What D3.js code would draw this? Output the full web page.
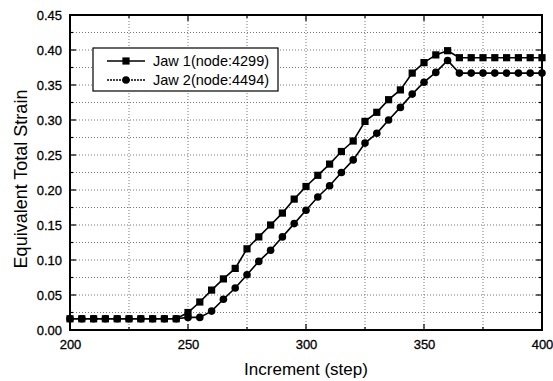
<!DOCTYPE html>
<html>
<head>
<meta charset="utf-8">
<script src="https://cdn.jsdelivr.net/npm/d3@7"></script>
<style>
  body { margin: 0; background: #fff; }
  svg { display: block; font-family: Arial, "Liberation Sans", sans-serif; }
</style>
</head>
<body>
<svg id="chart" width="553" height="381"></svg>
<script>
// increments (x) shared by both series
var steps = [200, 205, 210, 215, 220, 225, 230, 235, 240, 245, 250, 255, 260, 265, 270, 275, 280, 285, 290, 295,
  300, 305, 310, 315, 320, 325, 330, 335, 340, 345, 350, 355, 360, 365, 370, 375, 380, 385, 390, 395, 400];

var jaw1 = [0.016, 0.016, 0.016, 0.016, 0.016, 0.016, 0.016, 0.016, 0.016, 0.016, 0.025, 0.040, 0.057, 0.073, 0.088,
  0.116, 0.133, 0.150, 0.167, 0.187, 0.205, 0.221, 0.237, 0.255, 0.270, 0.298, 0.311, 0.329, 0.343, 0.367, 0.382,
  0.393, 0.399, 0.389, 0.389, 0.389, 0.389, 0.389, 0.389, 0.389, 0.389];

var jaw2 = [0.016, 0.016, 0.016, 0.016, 0.016, 0.016, 0.016, 0.016, 0.016, 0.016, 0.018, 0.018, 0.027, 0.044, 0.060,
  0.079, 0.098, 0.114, 0.133, 0.152, 0.171, 0.190, 0.206, 0.225, 0.243, 0.267, 0.281, 0.300, 0.318, 0.337, 0.354,
  0.368, 0.385, 0.367, 0.367, 0.367, 0.367, 0.367, 0.367, 0.367, 0.367];

var seriesNames = ["Jaw 1(node:4299)", "Jaw 2(node:4494)"];
var xTicks = [200, 250, 300, 350, 400];
var yTicks = [0, 0.05, 0.10, 0.15, 0.20, 0.25, 0.30, 0.35, 0.40, 0.45];

var svg = d3.select("#chart"),
  margin = {top: 15, right: 11, bottom: 51, left: 70},
  width = 553 - margin.left - margin.right,
  height = 381 - margin.top - margin.bottom;

var x = d3.scaleLinear().domain([200, 400]).range([0, width]);
var y = d3.scaleLinear().domain([0, 0.45]).range([height, 0]);

var g = svg.append("g").attr("transform", "translate(" + margin.left + "," + margin.top + ")");

// dotted grid, every minor tick
g.append("g").selectAll("line")
  .data(d3.range(225, 400, 25))
  .enter().append("line")
  .attr("x1", function(d) { return x(d); })
  .attr("x2", function(d) { return x(d); })
  .attr("y1", 0).attr("y2", height)
  .attr("stroke", "#555").attr("stroke-width", 0.8)
  .attr("stroke-dasharray", "1,2");

g.append("g").selectAll("line")
  .data(d3.range(1, 18).map(function(i) { return i * 0.025; }))
  .enter().append("line")
  .attr("y1", function(d) { return y(d); })
  .attr("y2", function(d) { return y(d); })
  .attr("x1", 0).attr("x2", width)
  .attr("stroke", "#555").attr("stroke-width", 0.8)
  .attr("stroke-dasharray", "1,2");

// axes with inward ticks
var xMinor = d3.range(200, 401, 25);
var yMinor = d3.range(0, 19).map(function(i) { return i * 0.025; });

function tickLen(isMajor) { return isMajor ? 6 : 3; }

var xAxis = g.append("g").attr("transform", "translate(0," + height + ")")
  .call(d3.axisBottom(x).tickValues(xTicks).tickSize(0).tickPadding(10).tickFormat(d3.format("d")));
var yAxis = g.append("g")
  .call(d3.axisLeft(y).tickValues(yTicks).tickSize(0).tickPadding(8).tickFormat(d3.format(".2f")));

[xAxis, yAxis].forEach(function(a) {
  a.select(".domain").remove();
  a.selectAll("text").attr("font-size", 13).attr("fill", "#000")
    .attr("font-family", "Arial, 'Liberation Sans', sans-serif")
    .attr("stroke", "#000").attr("stroke-width", 0.3);
});

var ticks = g.append("g").attr("stroke", "#000").attr("stroke-width", 1.2);
xMinor.forEach(function(d) {
  var l = tickLen(d % 50 === 0);
  ticks.append("line").attr("x1", x(d)).attr("x2", x(d)).attr("y1", height).attr("y2", height - l);
  ticks.append("line").attr("x1", x(d)).attr("x2", x(d)).attr("y1", 0).attr("y2", l);
});
yMinor.forEach(function(d, i) {
  var l = tickLen(i % 2 === 0);
  ticks.append("line").attr("y1", y(d)).attr("y2", y(d)).attr("x1", 0).attr("x2", l);
  ticks.append("line").attr("y1", y(d)).attr("y2", y(d)).attr("x1", width).attr("x2", width - l);
});

g.append("rect").attr("width", width).attr("height", height)
  .attr("fill", "none").attr("stroke", "#000").attr("stroke-width", 2);

// series
var line = d3.line()
  .x(function(d, i) { return x(steps[i]); })
  .y(function(d) { return y(d); });

g.append("path").datum(jaw1).attr("d", line)
  .attr("fill", "none").attr("stroke", "#000").attr("stroke-width", 1.6);
g.append("path").datum(jaw2).attr("d", line)
  .attr("fill", "none").attr("stroke", "#000").attr("stroke-width", 1.6);

g.append("g").selectAll("circle")
  .data(jaw2).enter().append("circle")
  .attr("cx", function(d, i) { return x(steps[i]); })
  .attr("cy", function(d) { return y(d); })
  .attr("r", 3.8).attr("fill", "#000");

g.append("g").selectAll("rect")
  .data(jaw1).enter().append("rect")
  .attr("x", function(d, i) { return x(steps[i]) - 3.6; })
  .attr("y", function(d) { return y(d) - 3.6; })
  .attr("width", 7.2).attr("height", 7.2).attr("fill", "#000");

// legend
var legend = svg.append("g").attr("transform", "translate(93,48)");
legend.append("rect").attr("width", 185).attr("height", 43)
  .attr("fill", "#fff").attr("stroke", "#000").attr("stroke-width", 1.2);

seriesNames.forEach(function(name, i) {
  var ly = 13 + i * 19;
  legend.append("line").attr("x1", 14).attr("x2", 52).attr("y1", ly).attr("y2", ly)
    .attr("stroke", "#000").attr("stroke-width", 1.6)
    .attr("stroke-dasharray", i === 1 ? "2,1" : null);
  if (i === 0) {
    legend.append("rect").attr("x", 33 - 3.6).attr("y", ly - 3.6).attr("width", 7.2).attr("height", 7.2).attr("fill", "#000");
  } else {
    legend.append("circle").attr("cx", 33).attr("cy", ly).attr("r", 3.8).attr("fill", "#000");
  }
  legend.append("text").attr("x", 60).attr("y", ly + 5)
    .attr("font-size", 14.5).attr("fill", "#000").text(name);
});

// axis titles
svg.append("text")
  .attr("x", margin.left + width / 2).attr("y", 375)
  .attr("text-anchor", "middle").attr("font-size", 17).text("Increment (step)");

svg.append("text")
  .attr("transform", "translate(27,179) rotate(-90)")
  .attr("text-anchor", "middle").attr("font-size", 18).text("Equivalent Total Strain");
</script>
</body>
</html>
